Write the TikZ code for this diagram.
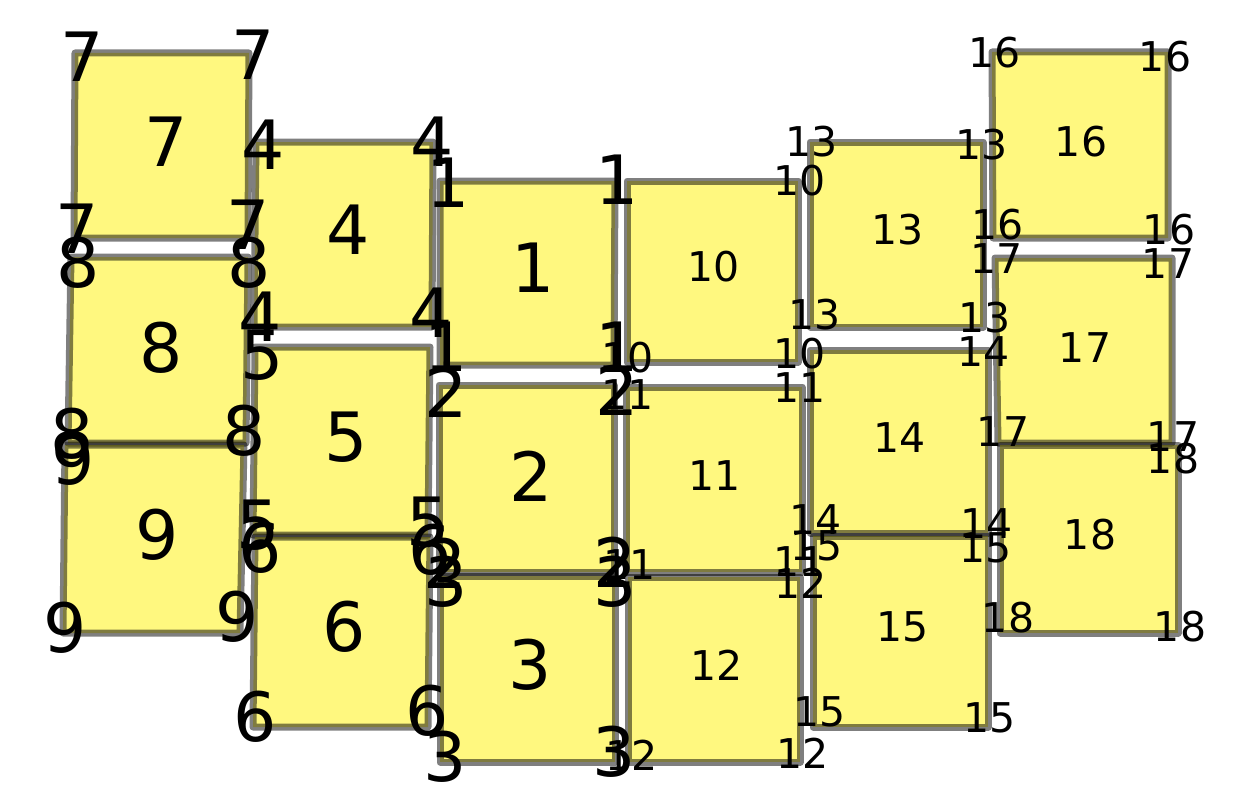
\documentclass[tikz,border=0pt]{standalone}
\usepackage{fontspec}
\setmainfont{DejaVu Sans}
\newcommand\bigfnt{\fontsize{68bp}{68bp}\selectfont}
\newcommand\smlfnt{\fontsize{41bp}{41bp}\selectfont}
\begin{document}
\begin{tikzpicture}[x=1bp,y=-1bp,
  quad/.style={fill=yellow,fill opacity=0.5,draw=black,draw opacity=0.5,line width=7bp,line join=round},
  bl/.style={font=\bigfnt,inner sep=0pt,text=black},
  sl/.style={font=\smlfnt,inner sep=0pt,text=black}]
\useasboundingbox (0,0) rectangle (1252,800);
% boxes 1-9
\draw[quad] (75,53) -- (249,53) -- (248,238) -- (74,238) -- cycle;
\draw[quad] (71,257) -- (248,257) -- (246,443) -- (68,443) -- cycle;
\draw[quad] (65,445) -- (244,445) -- (240,633) -- (63,633) -- cycle;
\draw[quad] (256,142) -- (433,142) -- (432,327) -- (254,327) -- cycle;
\draw[quad] (255,347) -- (430,347) -- (428,535) -- (253,535) -- cycle;
\draw[quad] (255,537) -- (430,537) -- (428,727) -- (253,727) -- cycle;
\draw[quad] (440,181) -- (615,181) -- (614,365) -- (440,365) -- cycle;
\draw[quad] (439,385) -- (614,385) -- (614,572) -- (439,572) -- cycle;
\draw[quad] (440,576) -- (615,576) -- (615,762) -- (440,762) -- cycle;
% boxes 10-18
\draw[quad] (627,181) -- (798,181) -- (798,362) -- (627,362) -- cycle;
\draw[quad] (626,387) -- (802,387) -- (802,572) -- (626,572) -- cycle;
\draw[quad] (628,577) -- (800,577) -- (800,762) -- (628,762) -- cycle;
\draw[quad] (810,142) -- (983,142) -- (983,327) -- (810,327) -- cycle;
\draw[quad] (810,350) -- (988,350) -- (988,533) -- (810,533) -- cycle;
\draw[quad] (813,536) -- (988,536) -- (988,727) -- (813,727) -- cycle;
\draw[quad] (992,52) -- (1168,52) -- (1168,238) -- (993,238) -- cycle;
\draw[quad] (995,258) -- (1172,258) -- (1172,443) -- (998,443) -- cycle;
\draw[quad] (1000,445) -- (1178,445) -- (1178,633) -- (1000,633) -- cycle;
% labels box 7
\node[bl] (c7) at (166,142) {7};
\node[bl] (a7) at (82,57) {7};
\node[bl] (b7) at (253,55) {7};
\node[bl] (d7) at (77,229) {7};
\node[bl] (e7) at (248,225) {7};
% box 8
\node[bl] (c8) at (161,348) {8};
\node[bl] (a8) at (78,263) {8};
\node[bl] (b8) at (249,263) {8};
\node[bl] (d8) at (72,434) {8};
\node[bl] (e8) at (244,431) {8};
% box 9
\node[bl] (c9) at (157,535) {9};
\node[bl] (a9) at (73,460) {9};
\node[bl] (d9) at (65,628) {9};
\node[bl] (e9) at (237,617) {9};
% box 4
\node[bl] (c4) at (348,230) {4};
\node[bl] (a4) at (263,145) {4};
\node[bl] (b4) at (432,142) {4};
\node[bl] (d4) at (260,317) {4};
\node[bl] (e4) at (431,313) {4};
% box 5
\node[bl] (c5) at (346,437) {5};
\node[bl] (a5) at (262,355) {5};
\node[bl] (d5) at (258,525) {5};
\node[bl] (e5) at (428,522) {5};
% box 6
\node[bl] (c6) at (344,627) {6};
\node[bl] (a6) at (260,548) {6};
\node[bl] (b6) at (430,550) {6};
\node[bl] (d6) at (255,717) {6};
\node[bl] (e6) at (427,711) {6};
% box 1
\node[bl] (c1) at (533,268) {1};
\node[bl] (a1) at (448,183) {1};
\node[bl] (b1) at (617,180) {1};
\node[bl] (d1) at (446,347) {1};
\node[bl] (e1) at (617,347) {1};
% box 2
\node[bl] (c2) at (531,476) {2};
\node[bl] (a2) at (446,392) {2};
\node[bl] (b2) at (617,390) {2};
\node[bl] (d2) at (445,563) {2};
\node[bl] (e2) at (615,562) {2};
% box 3
\node[bl] (c3) at (530,665) {3};
\node[bl] (a3) at (446,582) {3};
\node[bl] (b3) at (615,582) {3};
\node[bl] (d3) at (445,757) {3};
\node[bl] (e3) at (614,752) {3};
% box 10
\node[sl] (c10) at (714,267) {10};
\node[sl] (b10) at (800,181) {10};
\node[sl] (d10) at (628,358) {10};
\node[sl] (e10) at (800,354) {10};
% box 11
\node[sl] (c11) at (715,476) {11};
\node[sl] (a11) at (628,395) {11};
\node[sl] (b11) at (800,388) {11};
\node[sl] (d11) at (630,565) {11};
\node[sl] (e11) at (800,562) {11};
% box 12
\node[sl] (c12) at (717,665) {12};
\node[sl] (b12) at (801,583) {12};
\node[sl] (d12) at (632,755) {12};
\node[sl] (e12) at (803,753) {12};
% box 13
\node[sl] (c13) at (898,230) {13};
\node[sl] (a13) at (812,142) {13};
\node[sl] (b13) at (982,145) {13};
\node[sl] (d13) at (815,315) {13};
\node[sl] (e13) at (985,318) {13};
% box 14
\node[sl] (c14) at (900,438) {14};
\node[sl] (b14) at (984,352) {14};
\node[sl] (d14) at (816,520) {14};
\node[sl] (e14) at (987,524) {14};
% box 15
\node[sl] (c15) at (903,627) {15};
\node[sl] (a15) at (817,546) {15};
\node[sl] (b15) at (986,548) {15};
\node[sl] (d15) at (820,712) {15};
\node[sl] (e15) at (990,718) {15};
% box 16
\node[sl] (c16) at (1081,142) {16};
\node[sl] (a16) at (995,53) {16};
\node[sl] (b16) at (1165,57) {16};
\node[sl] (d16) at (998,225) {16};
\node[sl] (e16) at (1169,230) {16};
% box 17
\node[sl] (c17) at (1085,348) {17};
\node[sl] (a17) at (997,259) {17};
\node[sl] (b17) at (1168,264) {17};
\node[sl] (d17) at (1003,432) {17};
\node[sl] (e17) at (1173,437) {17};
% box 18
\node[sl] (c18) at (1090,535) {18};
\node[sl] (b18) at (1173,459) {18};
\node[sl] (d18) at (1008,618) {18};
\node[sl] (e18) at (1180,627) {18};
\end{tikzpicture}
\end{document}
